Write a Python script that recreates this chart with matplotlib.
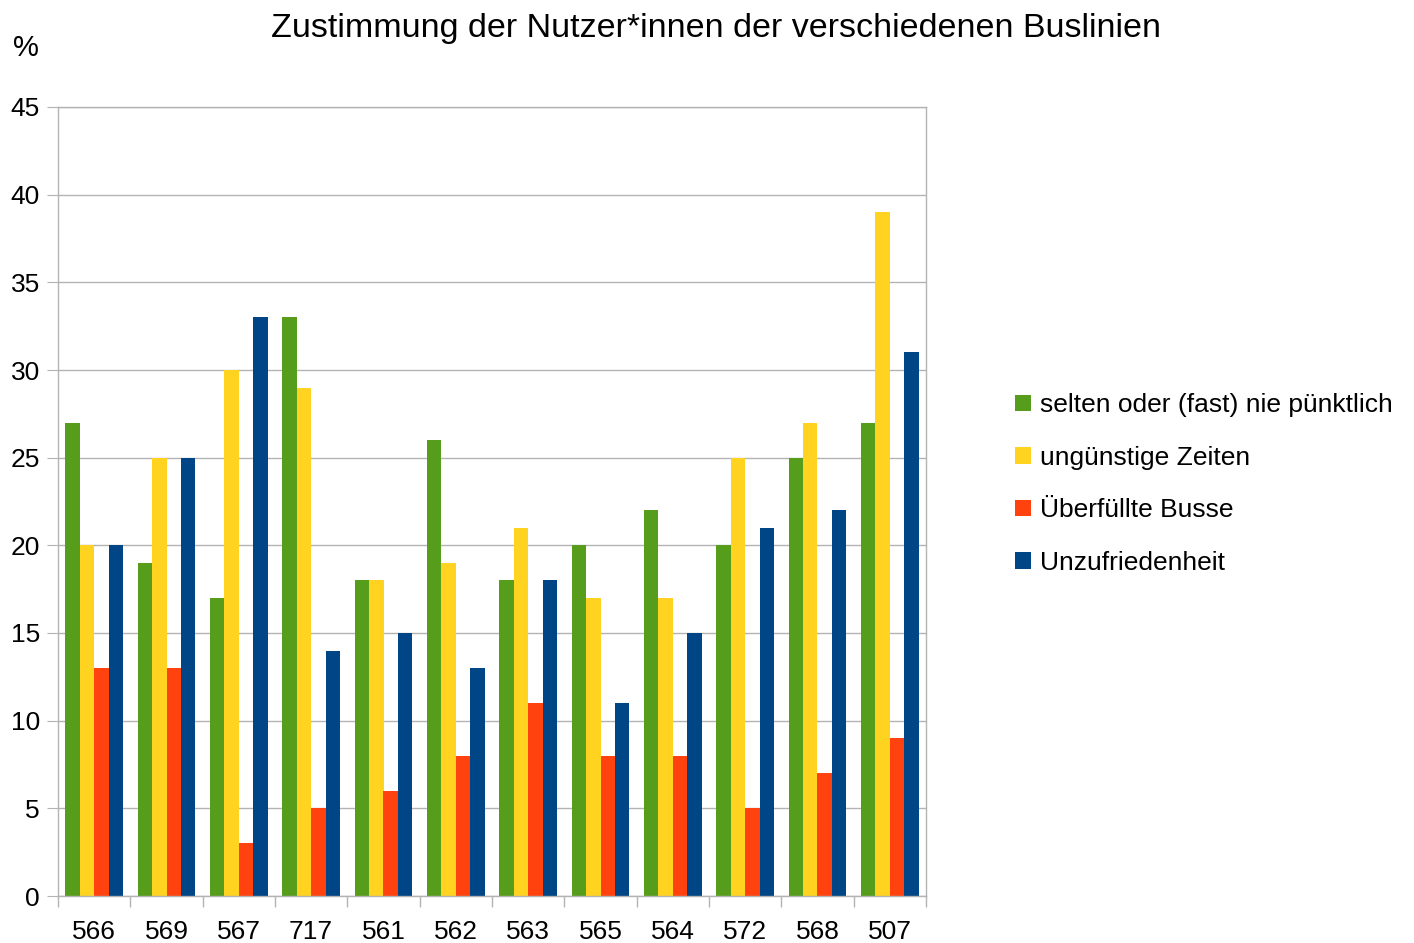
import matplotlib
matplotlib.use("Agg")
import matplotlib.pyplot as plt
import numpy as np

plt.rcParams['font.family'] = ['Liberation Sans', 'DejaVu Sans']

lines = ["566", "569", "567", "717", "561", "562", "563", "565", "564", "572", "568", "507"]
selten = [27, 19, 17, 33, 18, 26, 18, 20, 22, 20, 25, 27]
zeiten = [20, 25, 30, 29, 18, 19, 21, 17, 17, 25, 27, 39]
voll = [13, 13, 3, 5, 6, 8, 11, 8, 8, 5, 7, 9]
unzufrieden = [20, 25, 33, 14, 15, 13, 18, 11, 15, 21, 22, 31]

series = [
    ("selten oder (fast) nie pünktlich", selten, "#579d1c"),
    ("ungünstige Zeiten", zeiten, "#ffd320"),
    ("Überfüllte Busse", voll, "#ff420e"),
    ("Unzufriedenheit", unzufrieden, "#004586"),
]

fig = plt.figure(figsize=(14.14, 9.43), dpi=100)
ax = fig.add_axes([58 / 1414, 47 / 943, (926 - 58) / 1414, (896 - 107) / 943])

x = np.arange(len(lines))
w = 0.2
for i, (name, vals, col) in enumerate(series):
    ax.bar(x + (i - 1.5) * w, vals, width=w, color=col, label=name, zorder=2)

ax.set_xlim(-0.5, len(lines) - 0.5)
ax.set_ylim(0, 45)
ax.set_yticks(range(0, 46, 5))
ax.set_xticks(x)
ax.set_xticklabels(lines)
ax.set_xticks(np.arange(len(lines) + 1) - 0.5, minor=True)
ax.tick_params(axis='x', which='major', length=0, labelsize=19, pad=17)
ax.tick_params(axis='x', which='minor', length=8, color='#b3b3b3', width=1)
ax.tick_params(axis='y', length=8, color='#b3b3b3', labelsize=19, pad=5)
ax.grid(axis='y', color='#b3b3b3', linewidth=1, zorder=0)
for s in ax.spines.values():
    s.set_color('#b3b3b3')
    s.set_linewidth(1)

fig.text(716 / 1414, 1 - 28 / 943, "Zustimmung der Nutzer*innen der verschiedenen Buslinien",
         ha='center', va='center', fontsize=24.5)
fig.text(26 / 1414, 1 - 48 / 943, "%", ha='center', va='center', fontsize=21)

fig.legend(loc='center left', bbox_to_anchor=(1015 / 1414, 1 - 484 / 943), frameon=False,
           fontsize=19, handlelength=0.6, handleheight=0.6, handletextpad=0.35,
           labelspacing=1.08, borderpad=0, borderaxespad=0)

fig.savefig("out.png", dpi=100)
